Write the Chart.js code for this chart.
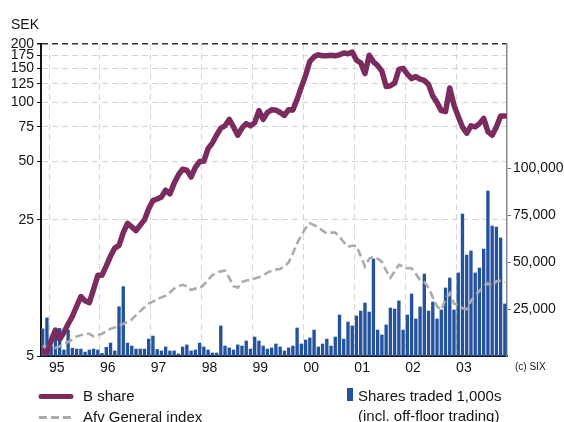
<!DOCTYPE html>
<html>
<head>
<meta charset="utf-8">
<title>B share</title>
<script src="https://cdn.jsdelivr.net/npm/chart.js@4/dist/chart.umd.min.js"></script>
<style>
  html, body { margin: 0; padding: 0; background: #fff; }
</style>
</head>
<body>
<canvas id="chart" width="564" height="422"></canvas>
<script>
// months are counted from Jan 1995; the series start in Nov 1994
var firstMonth = -2;
var yearLabels = ['95', '96', '97', '98', '99', '00', '01', '02', '03'];
var sekTicks = [5, 25, 50, 75, 100, 125, 150, 175, 200];
var volumeTicks = [25000, 50000, 75000, 100000];

// B share, SEK, monthly
var bShare = [
  5.3, 5.2, 6.0, 6.8, 6.1, 6.6, 7.3, 8.0, 9.0, 10.1,
  9.6, 9.4, 11.0, 13.0, 13.0, 14.5, 16.3, 17.9, 18.5, 21.5,
  24.0, 23.0, 22.0, 23.5, 25.0, 28.5, 31.4, 32.0, 32.8, 35.5,
  34.0, 38.5, 42.5, 45.5, 45, 41.5, 46.5, 49.8, 50, 58,
  62, 68, 74, 76, 82, 75, 68, 74, 78, 76,
  79, 91, 82, 89, 92, 91.5, 89, 86, 92, 91.7,
  104, 120, 138, 163, 172, 176, 174, 174, 175, 174,
  176, 180, 178, 182, 165, 160, 141, 175, 162, 155,
  145, 121, 122, 126, 148, 150, 140, 133, 136, 132,
  130, 124, 108, 100, 91, 90, 119, 97, 85, 75,
  69.6, 76, 75, 78, 83, 71, 68, 75, 85.4, 85.4
];

// Afv General index, rebased to the share price
var afvIndex = [
  5.6, 5.6, 5.6, 5.5, 5.6, 5.8, 5.9, 6.1, 6.3, 6.4,
  6.5, 6.5, 6.3, 6.4, 6.5, 6.7, 6.9, 7.0, 7.2, 7.3,
  7.5, 7.7, 8.1, 8.5, 8.9, 9.3, 9.5, 9.8, 10.0, 10.2,
  10.6, 11.1, 11.4, 11.6, 11.4, 10.9, 11.1, 11.1, 11.6, 12.3,
  13.0, 13.4, 13.6, 13.7, 12.6, 11.4, 11.2, 12.0, 12.2, 12.3,
  12.5, 12.7, 13.0, 13.4, 13.7, 13.9, 14.0, 14.4, 15.1, 16.8,
  19.0, 20.8, 22.7, 24.0, 23.5, 22.9, 22.0, 21.3, 21.5, 21.5,
  20.5, 19.2, 18.2, 18.4, 18.4, 16.3, 14.4, 15.8, 16.2, 15.8,
  15.2, 13.7, 12.6, 13.6, 14.7, 14.4, 14.1, 14.1, 13.2, 12.3,
  12.0, 11.2, 10.0, 9.0, 8.6, 9.8, 10.5, 9.3, 9.1, 8.8,
  8.7, 9.6, 10.2, 10.8, 11.4, 11.8, 11.4, 12.1, 12.2, 12.0
];

// shares traded per month, 1,000s
var sharesTraded = [
  14400, 20300, 5000, 12000, 14700, 3200, 13800, 4100, 3700, 3700,
  2100, 3200, 3700, 3200, 1400, 4600, 6900, 2700, 26200, 36900,
  6900, 5300, 3700, 3700, 3700, 9000, 10600, 3500, 2700, 4800,
  2700, 2700, 1100, 4800, 5900, 2700, 3200, 6900, 4800, 3200,
  1600, 1600, 16000, 5300, 4300, 3200, 5900, 5300, 8000, 3700,
  10100, 8000, 5300, 3700, 4300, 6400, 4800, 2700, 4300, 5300,
  14900, 6400, 8500, 9600, 13800, 4800, 6400, 9000, 5300, 10100,
  21800, 9000, 18100, 16000, 21300, 23900, 28200, 23400, 51600, 13800,
  11200, 16500, 25500, 25000, 29300, 13800, 21800, 33000, 19700, 26100,
  43600, 23900, 28700, 19700, 24500, 36200, 41500, 24500, 44200, 75500,
  53700, 55900, 44200, 46800, 56900, 87800, 69200, 68600, 62800, 27700
];

var FONT = "'Liberation Sans', Arial, Helvetica, sans-serif";
var purple = '#7c2b5e';
var blue = '#24529c';
var grey = '#ababab';
var ink = '#141414';

function monthly(values) {
  return values.map(function (v, i) {
    return { x: firstMonth + i + 0.5, y: v };
  });
}

// axis unit, copyright note and the legend below the plot
var extras = {
  id: 'extras',
  afterDraw: function (chart) {
    var ctx = chart.ctx;
    ctx.save();
    ctx.textBaseline = 'alphabetic';
    ctx.fillStyle = ink;
    ctx.font = '14px ' + FONT;
    ctx.fillText('SEK', 11, 29);
    ctx.font = '10px ' + FONT;
    ctx.fillText('(c) SIX', 515, 370);

    ctx.lineCap = 'round';
    ctx.strokeStyle = purple;
    ctx.lineWidth = 5;
    ctx.beginPath();
    ctx.moveTo(41, 396.5);
    ctx.lineTo(71, 396.5);
    ctx.stroke();

    ctx.lineCap = 'butt';
    ctx.strokeStyle = grey;
    ctx.lineWidth = 3;
    ctx.setLineDash([8, 4]);
    ctx.beginPath();
    ctx.moveTo(39, 417.5);
    ctx.lineTo(73, 417.5);
    ctx.stroke();
    ctx.setLineDash([]);

    ctx.fillStyle = blue;
    ctx.fillRect(347, 388, 6, 13);

    ctx.fillStyle = ink;
    ctx.font = '15px ' + FONT;
    ctx.fillText('B share', 83, 401);
    ctx.fillText('Afv General index', 83, 422);
    ctx.fillText('Shares traded 1,000s', 358, 401);
    ctx.fillText('(incl. off-floor trading)', 358, 421);
    ctx.restore();
  }
};

var ctx = document.getElementById('chart').getContext('2d');
var myChart = new Chart(ctx, {
  type: 'bar',
  data: {
    datasets: [
      {
        type: 'line',
        label: 'B share',
        data: monthly(bShare),
        yAxisID: 'y',
        borderColor: purple,
        borderWidth: 5.5,
        borderJoinStyle: 'round',
        borderCapStyle: 'round',
        pointRadius: 0,
        tension: 0,
        order: 1
      },
      {
        type: 'line',
        label: 'Afv General index',
        data: monthly(afvIndex),
        yAxisID: 'y',
        borderColor: grey,
        borderWidth: 2.6,
        borderDash: [8, 4],
        pointRadius: 0,
        tension: 0,
        order: 2
      },
      {
        type: 'bar',
        label: 'Shares traded 1,000s',
        data: monthly(sharesTraded),
        yAxisID: 'y2',
        backgroundColor: blue,
        barThickness: 2.7,
        order: 3
      }
    ]
  },
  options: {
    responsive: false,
    animation: false,
    layout: { padding: { top: 44, left: 0, right: 0, bottom: 0 } },
    plugins: {
      legend: { display: false },
      tooltip: { enabled: false }
    },
    scales: {
      x: {
        type: 'linear',
        offset: false,
        min: -1.9,
        max: 108,
        afterBuildTicks: function (s) {
          s.ticks = yearLabels.map(function (_, i) { return { value: i * 12 }; });
        },
        afterFit: function (s) { s.height = 66; },
        grid: { offset: false, color: '#d6d6d6', lineWidth: 1, drawTicks: false },
        border: { color: ink, width: 2, dash: [6, 4] },
        ticks: {
          align: 'start',
          padding: 4,
          autoSkip: false,
          maxRotation: 0,
          color: ink,
          font: { family: FONT, size: 14 },
          callback: function (v) { return yearLabels[v / 12]; }
        }
      },
      y: {
        type: 'logarithmic',
        position: 'left',
        min: 5,
        max: 200,
        afterBuildTicks: function (s) {
          s.ticks = sekTicks.map(function (v) { return { value: v }; });
        },
        afterFit: function (s) { s.width = 41; },
        grid: {
          color: function (c) {
            var v = c.tick ? c.tick.value : 0;
            if (v === 5) return 'rgba(0,0,0,0)';
            return v === 200 ? '#333' : '#d6d6d6';
          },
          lineWidth: function (c) {
            return c.tick && c.tick.value === 200 ? 1.5 : 1;
          },
          tickColor: ink,
          tickLength: 4
        },
        border: { color: ink, width: 2, dash: [6, 4] },
        ticks: {
          padding: 3,
          autoSkip: false,
          color: ink,
          font: { family: FONT, size: 14 },
          callback: function (v) { return String(v); }
        }
      },
      y2: {
        type: 'linear',
        position: 'right',
        min: 0,
        max: 166000,
        afterBuildTicks: function (s) {
          s.ticks = volumeTicks.map(function (v) { return { value: v }; });
        },
        afterFit: function (s) { s.width = 57; },
        grid: { drawOnChartArea: false, tickLength: 4, tickColor: '#777' },
        border: { color: '#888', width: 1.5 },
        ticks: {
          padding: 2,
          autoSkip: false,
          color: ink,
          font: { family: FONT, size: 14 },
          callback: function (v) { return v.toLocaleString('en-US'); }
        }
      }
    }
  },
  plugins: [extras]
});
</script>
</body>
</html>
